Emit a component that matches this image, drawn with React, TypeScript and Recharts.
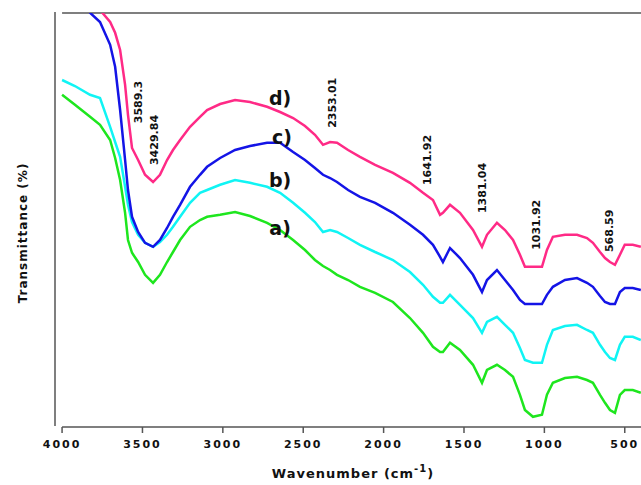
import React from "react";
import { LineChart, Line, XAxis, YAxis, ReferenceLine, ReferenceDot, Label } from "recharts";

// wavenumber grid (cm-1)
const wavenumbers = [
  4000, 3920, 3826, 3764, 3701, 3670, 3639, 3608, 3590, 3565,
  3527, 3484, 3434, 3391, 3347, 3310, 3266, 3204, 3142, 3098,
  3017, 2924, 2831, 2725, 2644, 2563, 2489, 2427, 2377, 2333,
  2290, 2221, 2147, 2053, 1942, 1836, 1755, 1693, 1649, 1631,
  1587, 1525, 1444, 1388, 1357, 1295, 1245, 1195, 1152, 1121,
  1071, 1015, 984, 947, 872, 797, 735, 698, 654, 623,
  592, 561, 530, 500, 450, 400,
];

// a) green
const seriesA = [
  82.3, 79.8, 76.8, 74.8, 71, 66.5, 61, 52.8, 46, 42.8,
  40.5, 37.3, 35.3, 37.3, 40.5, 43, 46, 49.3, 51, 51.8,
  52.3, 53, 52, 50.3, 48.5, 46, 43.5, 41, 39.5, 38.5,
  37.3, 36, 34.3, 32.8, 30.5, 26.5, 22.8, 19.3, 18, 18,
  20.3, 18.5, 14.8, 10.3, 13.5, 14.8, 13.5, 11.8, 7.3, 3.5,
  1.8, 2.3, 7.3, 10.3, 11.5, 11.8, 11, 10.3, 7.3, 5.3,
  3.5, 2.8, 7.3, 8.5, 8.5, 7.8,
];

// b) cyan
const seriesB = [
  86, 84.5, 82.3, 81.5, 74.3, 70.5, 66.8, 59.3, 54.8, 50.5,
  47.3, 45.3, 44.3, 45.5, 47.3, 49.3, 51.8, 55.3, 57.8, 58.5,
  59.8, 61, 60.3, 59.3, 57.8, 55.3, 52.8, 50.5, 48, 48.5,
  48, 46.5, 44.8, 43, 41, 38, 34.8, 31.8, 30.3, 30.3,
  32.3, 29.8, 26.5, 22.8, 25.5, 26.8, 24.8, 22.8, 19, 16,
  15.3, 15.3, 19.8, 23.5, 24.5, 24.8, 23.5, 22.8, 19.8, 18,
  16.5, 16, 19.8, 21.8, 21.8, 21,
];

// c) blue
const seriesC = [
  121, 111, 102.8, 100.5, 94.8, 89.3, 78.5, 66, 58.5, 51.8,
  48, 45.3, 44.3, 46, 49, 51.8, 54.8, 59.3, 62.3, 64.3,
  66.5, 68.5, 69.5, 70.3, 70.3, 68, 66, 64, 62.3, 61.5,
  60.5, 58.5, 56.8, 55.3, 52.8, 49.8, 47.3, 44.8, 41.8, 40.5,
  44, 41.5, 37.3, 33, 36, 38.5, 36, 33.5, 31, 30,
  30, 30, 32.3, 34.3, 36, 36.5, 35.3, 34.3, 32, 30.5,
  30, 30, 33, 34, 34, 33.5,
];

// d) pink
const seriesD = [
  116, 112.3, 108, 103.5, 100.5, 97.8, 93.5, 84.8, 77.3, 69,
  66, 62.3, 60.5, 62.3, 66, 68.5, 71, 74.3, 76.8, 78.5,
  80, 81, 80.5, 79.3, 78, 76.5, 74.5, 72.3, 69.8, 70.5,
  70.3, 68.5, 66.8, 64.8, 62.8, 60.3, 57.8, 56, 52.3, 52.8,
  54.8, 52.8, 48.5, 44.3, 47.3, 50.3, 48.5, 46, 42.3, 39.3,
  39.3, 39.3, 43.5, 46.8, 47.3, 47.3, 46.5, 45.3, 43, 41.5,
  40.5, 39.8, 42.3, 44.8, 44.8, 44.3,
];

const xTicks = [4000, 3500, 3000, 2500, 2000, 1500, 1000, 500];

const peakLabels = ["3589.3", "3429.84", "2353.01", "1641.92", "1381.04", "1031.92", "568.59"];
const peakX = [3527, 3422, 2315, 1724, 1388, 1046, 592];
const peakY = [80.5, 71, 80.3, 66, 59, 49.8, 48.3];

const curveLabels = ["d)", "c)", "b)", "a)"];
const curveLabelX = [2644, 2632, 2644, 2644];
const curveLabelY = [81.5, 71.8, 61, 49];

const data = wavenumbers.map((wn, i) => ({
  wn,
  a: seriesA[i],
  b: seriesB[i],
  c: seriesC[i],
  d: seriesD[i],
}));

const FONT = "'DejaVu Sans', sans-serif";
const AXIS = "#555";
const X_MIN = 399;
const X_MAX = 4044;
const Y_MIN = -0.75;
const Y_MAX = 102.75;

function XTick(props: any) {
  const { x, y, payload } = props;
  return (
    <text x={x} y={y + 13} textAnchor="middle" fontFamily={FONT} fontWeight="bold"
      fontSize={11} letterSpacing={2} fill="#111">
      {payload.value}
    </text>
  );
}

function rotatedLabel(text: string) {
  return (p: any) => {
    const { x, y } = p.viewBox;
    return (
      <text x={x} y={y} transform={`rotate(-90 ${x} ${y})`} textAnchor="middle"
        dominantBaseline="central" fontFamily={FONT} fontWeight="bold" fontSize={11} fill="#111">
        {text}
      </text>
    );
  };
}

function curveLabel(text: string) {
  return (p: any) => {
    const { x, y } = p.viewBox;
    return (
      <text x={x} y={y} textAnchor="middle" dominantBaseline="central" fontFamily={FONT}
        fontWeight="bold" fontSize={19} fill="#111">
        {text}
      </text>
    );
  };
}

function yTitle(p: any) {
  const vb = p.viewBox;
  const cy = vb.y + vb.height / 2 + 14;
  return (
    <text x={23} y={cy} transform={`rotate(-90 23 ${cy})`} textAnchor="middle"
      dominantBaseline="central" fontFamily={FONT} fontWeight="bold" fontSize={12}
      letterSpacing={1} fill="#111">
      Transmittance (%)
    </text>
  );
}

export default function App() {
  return (
    <div style={{ position: "absolute", left: 0, top: 0, background: "#fff" }}>
      <LineChart width={641} height={485} data={data}
        margin={{ top: 13, right: 0, left: 55, bottom: 28 }}>
        <XAxis type="number" dataKey="wn" domain={[X_MIN, X_MAX]} reversed ticks={xTicks}
          axisLine={false} tickLine={{ stroke: AXIS, strokeWidth: 1.5 }} tickSize={6}
          height={30} tick={<XTick />} interval={0}>
          <Label content={(p: any) => {
            const vb = p.viewBox;
            return (
              <text x={vb.x + vb.width / 2 + 5} y={478} textAnchor="middle" fontFamily={FONT}
                fontWeight="bold" fontSize={13} letterSpacing={1} fill="#111">
                Wavenumber (cm
                <tspan dy={-6} fontSize={10}>-1</tspan>
                <tspan dy={6}>)</tspan>
              </text>
            );
          }} />
        </XAxis>
        <YAxis type="number" domain={[Y_MIN, Y_MAX]} allowDataOverflow hide />

        {/* frame: top line, left axis line and detached bottom axis line */}
        <ReferenceLine ifOverflow="visible" stroke={AXIS} strokeWidth={1.5}
          segment={[{ x: 4000, y: Y_MAX }, { x: X_MIN, y: Y_MAX }]} />
        <ReferenceLine ifOverflow="visible" stroke={AXIS} strokeWidth={1.5}
          segment={[{ x: 4000, y: Y_MIN }, { x: X_MIN, y: Y_MIN }]} />
        <ReferenceLine ifOverflow="visible" stroke={AXIS} strokeWidth={1.5}
          segment={[{ x: X_MAX, y: Y_MAX + 0.25 }, { x: X_MAX, y: Y_MIN + 0.25 }]}
          label={{ content: yTitle }} />

        <Line type="linear" dataKey="a" stroke="#1ee61e" strokeWidth={2.5} dot={false} isAnimationActive={false} />
        <Line type="linear" dataKey="b" stroke="#10f4f4" strokeWidth={2.5} dot={false} isAnimationActive={false} />
        <Line type="linear" dataKey="c" stroke="#1414e6" strokeWidth={2.5} dot={false} isAnimationActive={false} />
        <Line type="linear" dataKey="d" stroke="#ff2a86" strokeWidth={2.5} dot={false} isAnimationActive={false} />

        {peakLabels.map((t, i) => (
          <ReferenceDot key={t} x={peakX[i]} y={peakY[i]} r={0} stroke="none" fill="none"
            ifOverflow="visible" label={{ content: rotatedLabel(t) }} />
        ))}
        {curveLabels.map((t, i) => (
          <ReferenceDot key={t} x={curveLabelX[i]} y={curveLabelY[i]} r={0} stroke="none" fill="none"
            ifOverflow="visible" label={{ content: curveLabel(t) }} />
        ))}
      </LineChart>
    </div>
  );
}
